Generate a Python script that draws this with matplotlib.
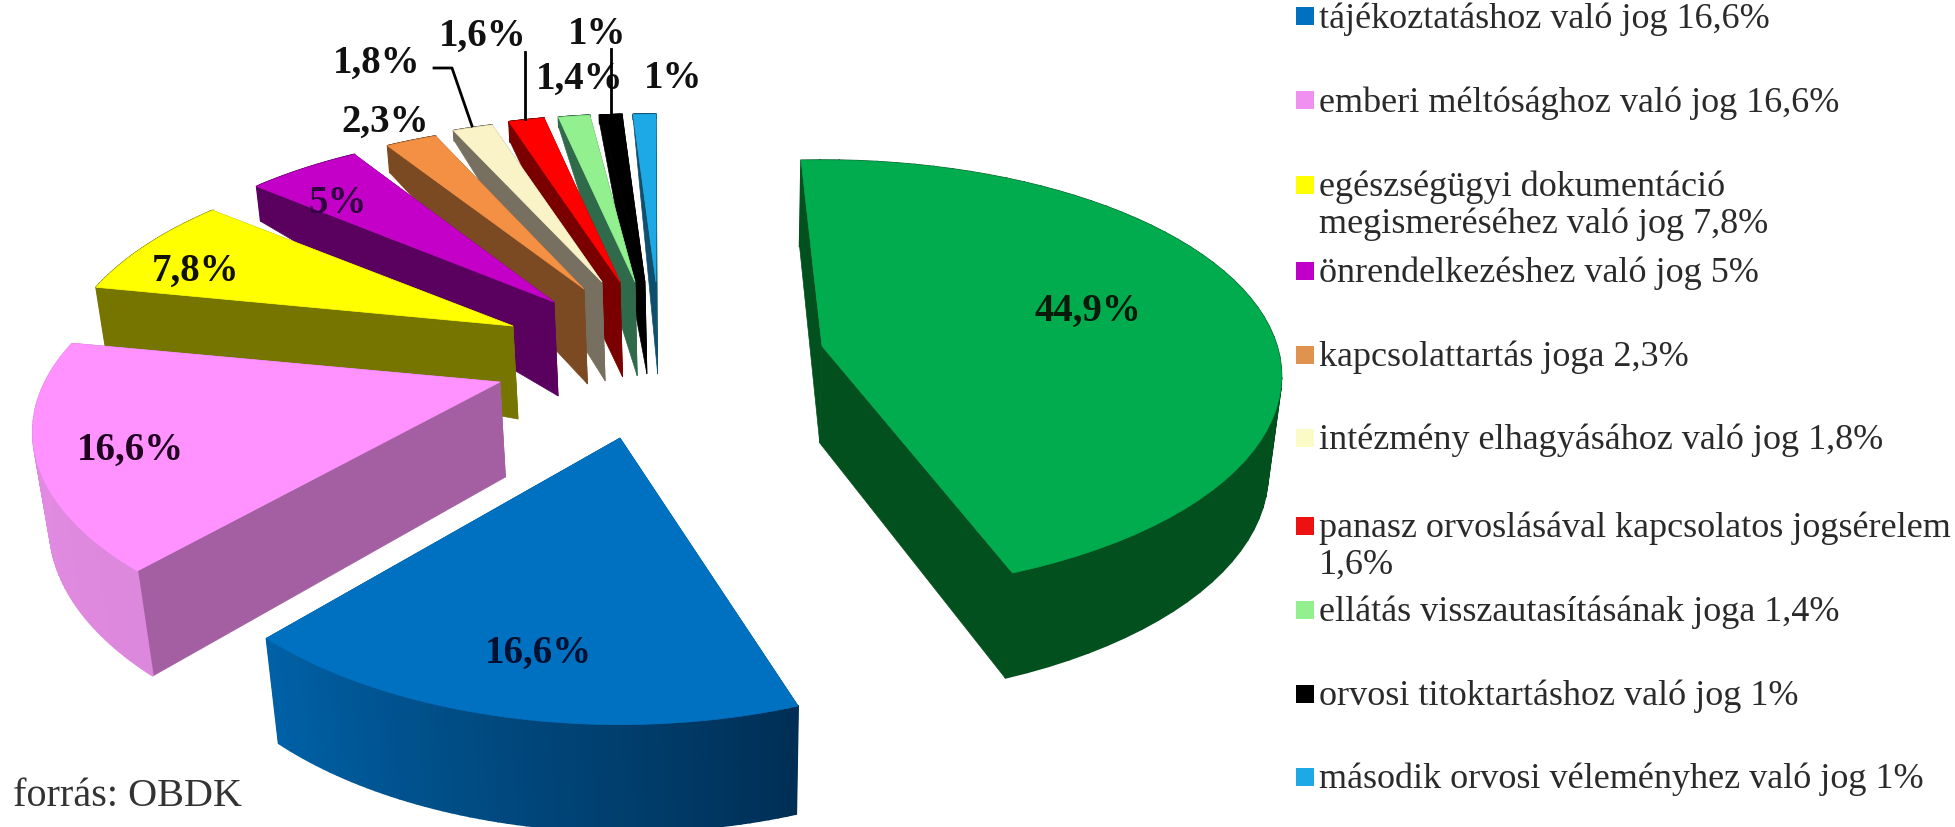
import matplotlib.pyplot as plt
import numpy as np

plt.rcParams['font.family'] = ['Liberation Serif', 'DejaVu Serif']

# data
values = [44.9, 16.6, 16.6, 7.8, 5, 2.3, 1.8, 1.6, 1.4, 1, 1]
value_labels = ['44,9%', '16,6%', '16,6%', '7,8%', '5%', '2,3%', '1,8%', '1,6%', '1,4%', '1%', '1%']
legend_labels = ['tájékoztatáshoz való jog 16,6%',
                 'emberi méltósághoz való jog 16,6%',
                 'egészségügyi dokumentáció\nmegismeréséhez való jog 7,8%',
                 'önrendelkezéshez való jog 5%',
                 'kapcsolattartás joga 2,3%',
                 'intézmény elhagyásához való jog 1,8%',
                 'panasz orvoslásával kapcsolatos jogsérelem\n1,6%',
                 'ellátás visszautasításának joga 1,4%',
                 'orvosi titoktartáshoz való jog 1%',
                 'második orvosi véleményhez való jog 1%']
source_text = 'forrás: OBDK'

# colours
top_colors = ['#00ac4e', '#0070c0', '#ff92ff', '#ffff00', '#c400c8', '#f49044',
              '#fbf3c8', '#ff0000', '#92f08e', '#000000', '#1da9e6']
wall_colors = ['#03501f', '#004a80', '#a45fa3', '#757500', '#5a005f', '#7b4a22',
               '#777060', '#7a0000', '#2f6b4a', '#000000', '#0f4f6e']
arc_from = ['#03501f', '#002f55', '#dc88dc', '#757500', '#5a005f', '#7b4a22',
            '#777060', '#7a0000', '#2f6b4a', '#000000', '#0f4f6e']
arc_to = ['#03501f', '#0062a8', '#e68ce6', '#757500', '#5a005f', '#7b4a22',
          '#777060', '#7a0000', '#2f6b4a', '#000000', '#0f4f6e']
swatch_colors = ['#0070c0', '#f090f0', '#ffff00', '#c000c8', '#e0924f',
                 '#fbfbc8', '#ee1111', '#92f08e', '#000000', '#1da9e6']
label_colors = ['#0a1a0a', '#001030', '#200020', '#111100', '#300040', '#111111',
                '#111111', '#111111', '#111111', '#111111', '#111111']

# layout of the exploded perspective pie, in pixels
radius_x = 455
radius_y = 209
apex_x = [822, 620, 500, 513, 554, 584, 602, 620, 635, 645, 656]
apex_y = [347, 439, 383, 327, 303, 290, 283, 283, 283, 283, 283]
perspective = [0.14, 0.227, 0.227, 0.227, 0.227, 0.227, 0.227, 0.227, 0.227, 0.227, 0.227]
turn = [-3, 0, 0, 0, 0, 0, 0, 0, 0, 0, 0]
stretch_x = [1, 0.975, 1, 0.975, 0.965, 0.95, 0.95, 0.96, 0.97, 0.98, 0.98]
stretch_y = [1.014, 1.06, 1, 1, 1, 0.97, 0.96, 0.98, 0.985, 0.985, 0.985]
depth_apex = [97, 100, 95, 93, 94, 95, 99, 95, 94, 92, 92]
depth_start = [86, 108, 105, 59, 35, 27, 10, 20, 10, 8, 5]
depth_end = [105, 105, 90, 40, 20, 15, 8, 15, 8, 6, 4]
vanish_x = 730
label_x = [1088, 538, 130, 196, 338, 385, 377, 483, 580, 597, 673]
label_y = [311, 653, 450, 271, 204, 122, 63, 36, 79, 35, 78]
legend_y = [17, 101, 186, 272, 356, 439, 527, 611, 695, 778]


def rim_point(i, theta, r=1.0):
    t = np.radians(theta + turn[i])
    u = r * np.sin(t)
    v = r * np.cos(t)
    w = 1 + perspective[i] * v
    return (apex_x[i] + stretch_x[i] * radius_x * u / w,
            apex_y[i] - stretch_y[i] * radius_y * v / w)


def drop(point, depth):
    x, y = point
    return x + (vanish_x - x) * depth / 4000, y + depth


def mix(c1, c2, t):
    a = np.array(plt.matplotlib.colors.to_rgb(c1))
    b = np.array(plt.matplotlib.colors.to_rgb(c2))
    return tuple(a + (b - a) * t)


fig = plt.figure(figsize=(19.56, 8.28), dpi=100)
ax = fig.add_axes([0, 0, 1, 1])
ax.set_xlim(0, 1956)
ax.set_ylim(828, 0)
ax.axis('off')

edges = np.concatenate([[0], np.cumsum(values)]) / np.sum(values) * 360
draw_order = list(range(10, 1, -1)) + [1, 0]

for n, i in enumerate(draw_order):
    start, end = edges[i], edges[i + 1]
    center = (apex_x[i], apex_y[i])
    center_low = drop(center, depth_apex[i])
    # straight walls
    for theta, d in [(end, depth_end[i]), (start, depth_start[i])]:
        p = rim_point(i, theta)
        q = drop(p, d)
        ax.fill([center[0], p[0], q[0], center_low[0]],
                [center[1], p[1], q[1], center_low[1]],
                color=wall_colors[i], lw=0.5, zorder=2 + n * 3)
    # curved wall, made from short strips
    thetas = np.linspace(start, end, 60)
    for j in range(len(thetas) - 1):
        f0 = (thetas[j] - start) / (end - start)
        f1 = (thetas[j + 1] - start) / (end - start)
        p0 = rim_point(i, thetas[j])
        p1 = rim_point(i, thetas[j + 1])
        q0 = drop(p0, depth_start[i] + (depth_end[i] - depth_start[i]) * f0)
        q1 = drop(p1, depth_start[i] + (depth_end[i] - depth_start[i]) * f1)
        ax.fill([p0[0], p1[0], q1[0], q0[0]], [p0[1], p1[1], q1[1], q0[1]],
                color=mix(arc_from[i], arc_to[i], f0), lw=1.2, zorder=3 + n * 3)
    # top face
    xs, ys = rim_point(i, thetas)
    ax.fill(np.r_[center[0], xs], np.r_[center[1], ys], color=top_colors[i], lw=0.5,
            zorder=4 + n * 3)

# value labels
for i in range(len(values)):
    ax.text(label_x[i], label_y[i], value_labels[i], fontsize=28, fontweight='bold',
            ha='center', va='center', color=label_colors[i], zorder=60)

# leader lines
ax.plot([434, 452, 472], [69, 69, 127], color='black', lw=2, zorder=61)
ax.plot([525, 525], [53, 120], color='black', lw=2, zorder=61)
ax.plot([611, 611], [50, 115], color='black', lw=2, zorder=61)

# legend, drawn by hand because its rows are not evenly filled
for y, text, col in zip(legend_y, legend_labels, swatch_colors):
    ax.add_patch(plt.Rectangle((1296, y - 9), 18, 18, color=col, lw=0, zorder=50))
    ax.text(1319, y - 15, text, fontsize=26, color='#2a2a2a', ha='left', va='top',
            linespacing=1.12, zorder=60)

ax.text(13, 797, source_text, fontsize=29, color='#333333', ha='left', va='center', zorder=60)

fig.savefig('out.png', dpi=100)
